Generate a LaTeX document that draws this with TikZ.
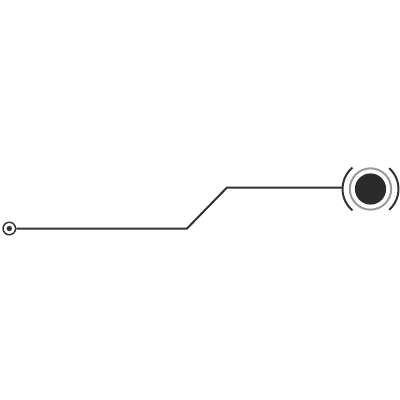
\documentclass[tikz,border=0pt]{standalone}
\usetikzlibrary{calc}
\definecolor{wirecol}{HTML}{333333}
\definecolor{ringcol}{HTML}{9A9A9A}
\definecolor{corecol}{HTML}{2B2B2B}

\begin{document}
\begin{tikzpicture}[
    x = 0.75pt, y = -0.75pt,
    wire/.style = {draw=wirecol, line width=1.5pt},
    port/.style = {circle, draw=wirecol, line width=1.1pt,
        minimum size=9.4pt, inner sep=0pt},
    dot/.style = {circle, fill=wirecol, minimum size=4pt, inner sep=0pt},
    core/.style = {circle, fill=corecol, minimum size=23.4pt, inner sep=0pt},
    ring/.style = {circle, draw=ringcol, line width=1.5pt,
        minimum size=31pt, inner sep=0pt},
    halo/.style = {circle, minimum size=42pt, inner sep=0pt}
  ]
  \useasboundingbox (0,0) rectangle (400,400);

  % source
  \node[port] (SRC) at (9.3,228.5) {};
  \node[dot] at (SRC) {};

  % target
  \node[core] (DST) at (370.5,189) {};
  \node[ring] at (DST) {};
  \node[halo] (HALO) at (DST) {};
  \draw[wire] ($(DST)+(130:28)$) arc[start angle=130, end angle=230, radius=28];
  \draw[wire] ($(DST)+(-48:28)$) arc[start angle=-48, end angle=48, radius=28];

  % route
  \coordinate (B1) at (187,228.5);
  \coordinate (B2) at (227,187.5);
  \draw[wire] (SRC) -- (B1) -- (B2) -- (B2 -| HALO.west);
\end{tikzpicture}
\end{document}
